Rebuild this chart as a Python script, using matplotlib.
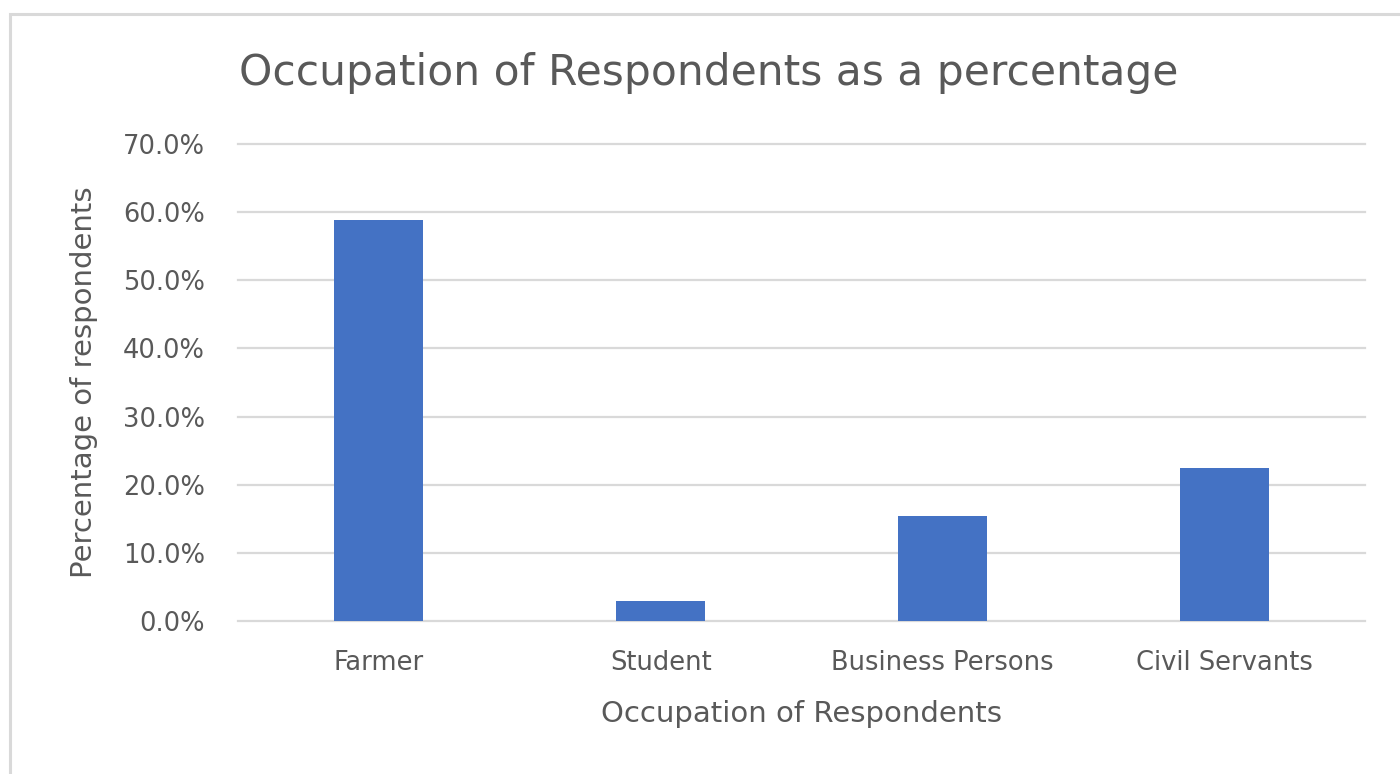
import matplotlib
matplotlib.use("Agg")
import matplotlib.pyplot as plt
from matplotlib.patches import Rectangle
from matplotlib.ticker import FuncFormatter, MultipleLocator

categories = ["Farmer", "Student", "Business Persons", "Civil Servants"]
percentages = [58.9, 2.9, 15.4, 22.4]

plt.rcParams["font.family"] = ["DejaVu Sans"]
text_color = "#595959"
grid_color = "#d9d9d9"
bar_color = "#4472C4"

fig = plt.figure(figsize=(14, 7.74), dpi=100)
fig.patch.set_facecolor("white")

# chart-area frame
fig.add_artist(Rectangle((10 / 1400, -0.05), 1.1, 1 - 13.5 / 774 + 0.05,
                         transform=fig.transFigure, fill=False,
                         edgecolor=grid_color, linewidth=2.2))

ax = fig.add_axes([238 / 1400, 1 - 621 / 774, (1365 - 238) / 1400, (621 - 144) / 774])
x = range(len(categories))
ax.bar(x, percentages, width=0.316, color=bar_color, zorder=3)

ax.set_xlim(-0.5, len(categories) - 0.5)
ax.set_ylim(0, 70)
ax.yaxis.set_major_locator(MultipleLocator(10))
ax.yaxis.set_major_formatter(FuncFormatter(lambda v, _: f"{v:.1f}%"))
ax.set_xticks(list(x))
ax.set_xticklabels(categories)

ax.grid(axis="y", color=grid_color, linewidth=1.6, zorder=0)
for gl in ax.get_ygridlines():
    gl.set_clip_on(False)
for s in ["top", "right", "left", "bottom"]:
    ax.spines[s].set_visible(False)
ax.tick_params(axis="both", length=0, labelsize=18.5, colors=text_color)
ax.tick_params(axis="y", pad=24)
ax.tick_params(axis="x", pad=21)

ax.set_xlabel("Occupation of Respondents", fontsize=21, color=text_color, labelpad=17)
ax.set_ylabel("Percentage of respondents", fontsize=21, color=text_color, labelpad=18)

fig.text(709 / 1400, 1 - 73 / 774, "Occupation of Respondents as a percentage",
         ha="center", va="center", fontsize=30.5, color=text_color)

fig.savefig("out.png", dpi=100, facecolor="white")
